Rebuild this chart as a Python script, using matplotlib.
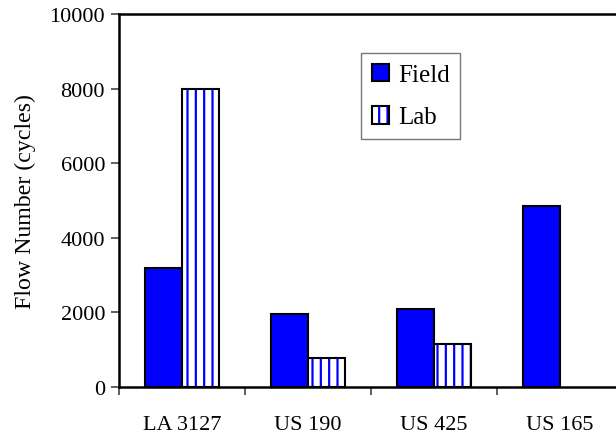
import matplotlib
matplotlib.use("Agg")
import matplotlib.pyplot as plt
import numpy as np

# Flow number by test section
sections = ["LA 3127", "US 190", "US 425", "US 165"]
field = [3200, 1950, 2080, 4840]
lab = [8000, 770, 1160, 0]
y_ticks = [0, 2000, 4000, 6000, 8000, 10000]

plt.rcParams["font.family"] = ["Liberation Serif", "DejaVu Serif"]
plt.rcParams["hatch.linewidth"] = 1.6

fig = plt.figure(figsize=(6.16, 4.35), dpi=100)
ax = fig.add_axes([119 / 616, 1 - 388 / 435, (623 - 119) / 616, (388 - 15) / 435])

x = np.arange(len(sections))
w = 0.29

field_bars = ax.bar(x - w / 2, field, w, color="#0000ff", edgecolor="black",
                    linewidth=1.5, zorder=3)
lab_hatch = ax.bar(x + w / 2, lab, w, color="white", edgecolor="#0000ff",
                   hatch="||", linewidth=0, zorder=3)
lab_edge = ax.bar(x + w / 2, lab, w, fill=False, edgecolor="black",
                  linewidth=1.5, zorder=4)
# empty bars get no outline
for v, ph, pe in zip(lab, lab_hatch, lab_edge):
    if v == 0:
        ph.set_visible(False)
        pe.set_visible(False)

ax.set_xlim(-0.5, len(sections) - 0.5)
ax.set_ylim(0, 10000)
ax.set_yticks(y_ticks)
ax.set_yticklabels([str(t) for t in y_ticks])
ax.set_xticks(x)
ax.set_xticklabels(sections)
ax.set_xticks(np.arange(len(sections) + 1) - 0.5, minor=True)

ax.tick_params(axis="x", which="major", length=0, pad=20, labelsize=16)
ax.tick_params(axis="x", which="minor", length=6, width=1.2, direction="out",
               color="#444444")
ax.tick_params(axis="y", length=6, width=1.2, direction="out", pad=4,
               labelsize=16, color="#444444")

for side in ["left", "bottom", "top"]:
    ax.spines[side].set_linewidth(1.8)
    ax.spines[side].set_color("black")
ax.spines["right"].set_visible(False)

ax.set_ylabel("Flow Number (cycles)", fontsize=17.2, labelpad=10)

leg = ax.legend([field_bars[0], (lab_hatch[0], lab_edge[0])], ["Field", "Lab"],
                loc="upper left", bbox_to_anchor=(361 / 616, 1 - 54 / 435),
                bbox_transform=fig.transFigure, fontsize=18, frameon=True,
                fancybox=False, handlelength=0.7, handleheight=0.7,
                handletextpad=0.35, labelspacing=0.8, borderpad=0.42,
                borderaxespad=0)
leg.get_frame().set_edgecolor("#555555")
leg.get_frame().set_linewidth(1.0)

fig.savefig("out.png", dpi=100)
